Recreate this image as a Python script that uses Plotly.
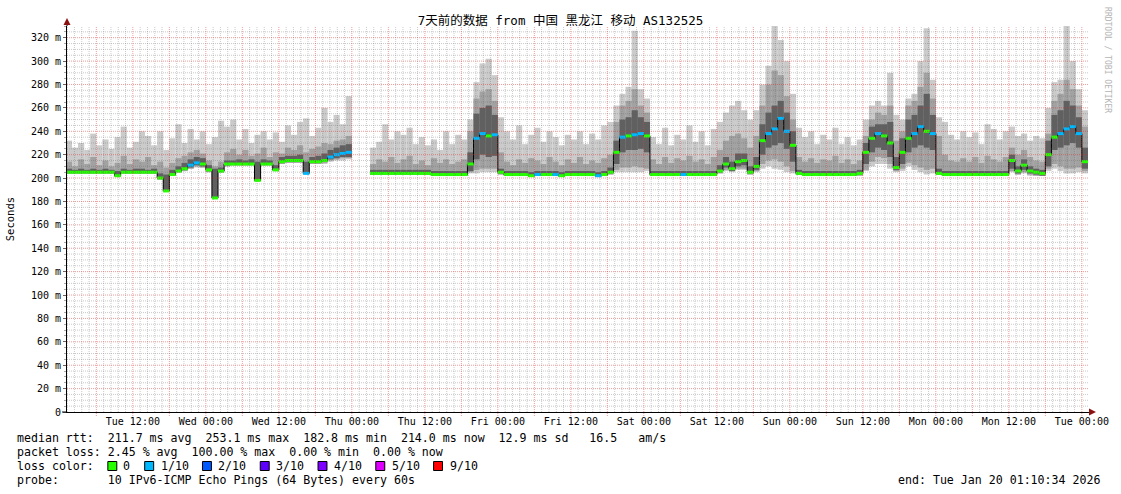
import plotly.graph_objects as go
import pandas as pd

N = None
FONT = "DejaVu Sans Mono, Noto Sans CJK SC, monospace"

TITLE = "7天前的数据 from 中国 黑龙江 移动 AS132525"
START, END = "2026-01-13 01:10:34", "2026-01-20 01:10:34"
FIRST_BIN_CENTER = "2026-01-13 01:30"   # hourly bins

Y_TICKS = [0, 20, 40, 60, 80, 100, 120, 140, 160, 180, 200, 220, 240, 260, 280, 300, 320]
Y_LABELS = ["0", "20 m", "40 m", "60 m", "80 m", "100 m", "120 m", "140 m", "160 m",
            "180 m", "200 m", "220 m", "240 m", "260 m", "280 m", "300 m", "320 m"]
X_TICKS = ["2026-01-13 12:00", "2026-01-14 00:00", "2026-01-14 12:00", "2026-01-15 00:00",
           "2026-01-15 12:00", "2026-01-16 00:00", "2026-01-16 12:00", "2026-01-17 00:00",
           "2026-01-17 12:00", "2026-01-18 00:00", "2026-01-18 12:00", "2026-01-19 00:00",
           "2026-01-19 12:00", "2026-01-20 00:00"]
X_LABELS = ["Tue 12:00", "Wed 00:00", "Wed 12:00", "Thu 00:00", "Thu 12:00", "Fri 00:00",
            "Fri 12:00", "Sat 00:00", "Sat 12:00", "Sun 00:00", "Sun 12:00", "Mon 00:00",
            "Mon 12:00", "Tue 00:00"]

# median rtt (ms), one value per hour
median_ms = [
    205,205,205,205,205,205,205,205,202,205,205,205,205,205,205,200,189,203,206,208,211,213,212,207,
    183,206,212,212,212,212,212,198,212,212,207,214,215,215,215,204,214,214,215,218,220,221,222,N,
    N,N,204,204,204,204,204,204,204,204,204,204,203,203,203,203,203,203,212,234,238,236,237,205,
    203,203,203,203,202,203,203,203,203,202,203,203,203,203,203,202,203,205,222,235,236,237,238,236,
    203,203,203,203,203,203,203,203,203,203,203,206,212,208,214,215,205,210,232,238,242,251,240,228,
    204,203,203,203,203,203,203,203,203,203,204,222,234,238,236,230,209,222,234,238,244,240,238,204,
    203,203,203,203,203,203,203,203,203,203,203,215,206,211,206,205,204,220,235,238,242,244,238,214,
]
# lost pings out of 10, per hour
loss_tenths = [
    0,0,0,0,0,0,0,0,0,0,0,0,0,0,0,0,0,0,0,0,1,1,0,0,
    0,0,0,0,0,0,0,0,0,0,0,0,0,0,0,1,0,0,0,1,1,1,1,N,
    N,N,0,0,0,0,0,0,0,0,0,0,0,0,0,0,0,0,0,1,1,0,1,0,
    0,0,0,0,0,1,0,0,1,0,0,0,0,0,0,1,0,0,0,1,0,1,1,0,
    0,0,0,0,0,1,0,0,0,0,0,0,0,0,0,0,0,0,0,1,1,1,1,0,
    0,0,0,0,0,0,0,0,0,0,0,0,0,1,0,0,0,0,0,1,1,0,1,0,
    0,0,0,0,0,0,0,0,0,0,0,0,0,0,0,0,0,0,0,1,1,1,1,0,
]
# smoke: lowest / highest ping
smoke_min = [
    204,204,204,204,204,204,204,204,202,204,204,204,204,204,204,199,194,202,205,206,208,209,209,205,
    200,205,210,211,211,211,211,205,211,211,206,212,213,213,213,206,212,212,212,214,215,215,216,N,
    N,N,203,203,203,203,203,203,203,203,203,203,202,202,202,202,202,202,204,204,205,205,205,203,
    202,202,202,202,201,202,202,202,202,201,202,202,202,202,202,201,202,203,205,205,205,205,205,206,
    202,202,202,202,202,202,202,202,202,202,202,204,206,205,207,207,203,205,208,210,208,207,205,204,
    203,202,202,202,202,202,202,202,202,202,202,206,210,212,212,208,205,206,210,207,205,203,204,203,
    202,202,202,202,202,202,202,202,202,202,202,205,203,204,202,202,202,206,208,206,204,204,205,204,
]
smoke_max = [
    232,226,230,224,238,228,233,225,235,244,226,231,240,236,228,240,224,234,246,230,242,233,240,229,
    235,249,244,250,233,242,230,237,240,233,239,231,245,237,248,251,236,243,260,248,254,246,270,N,
    N,N,226,231,246,233,240,237,243,229,235,228,233,224,240,229,237,233,250,282,298,302,288,252,
    240,233,245,229,237,243,231,240,235,228,237,233,240,229,238,233,245,248,262,272,278,326,276,268,
    235,229,243,228,237,233,245,231,240,228,242,248,256,262,266,258,250,258,280,296,330,318,300,272,
    243,235,240,229,237,233,243,229,235,228,233,250,262,266,262,290,254,250,268,272,300,328,284,252,
    248,237,233,240,235,239,229,246,242,233,240,244,236,238,232,236,234,260,282,284,330,300,276,258,
]
# inner smoke (2nd..9th ping)
smoke_mid_low = [
    204,204,204,204,204,204,204,204,202,204,204,204,204,204,204,199,192,202,205,206,208,210,209,205,
    195,205,210,211,211,211,211,202,211,211,206,212,213,213,213,205,212,212,213,215,216,217,217,N,
    N,N,203,203,203,203,203,203,203,203,203,203,202,202,202,202,202,202,205,207,208,208,208,203,
    202,202,202,202,201,202,202,202,202,201,202,202,202,202,202,201,202,203,207,209,209,210,209,208,
    202,202,202,202,202,202,202,202,202,202,202,204,207,206,208,208,203,206,212,215,216,214,210,206,
    203,202,202,202,202,202,202,202,202,202,202,207,214,218,217,212,206,208,213,211,209,207,208,204,
    202,202,202,202,202,202,202,202,202,202,202,206,203,205,203,202,202,208,212,210,208,208,209,206,
]
smoke_mid_high = [
    214,210,216,212,218,211,215,210,213,219,212,216,214,218,211,214,209,213,217,219,222,224,221,215,
    210,214,222,225,220,224,219,221,226,218,222,221,226,224,228,222,225,227,230,229,232,233,236,N,
    N,N,212,216,214,218,213,216,219,212,215,211,217,213,216,212,214,216,240,268,274,276,266,222,
    214,211,216,213,217,215,212,218,214,211,216,213,218,212,215,213,217,220,248,262,266,276,262,256,
    216,212,218,213,217,215,219,214,216,212,218,224,232,236,238,234,226,236,262,280,292,288,270,250,
    218,214,217,213,216,215,219,213,216,212,215,236,250,256,254,262,232,240,262,266,278,290,268,236,
    220,215,214,217,214,218,213,219,216,214,218,226,220,224,218,215,214,238,266,272,284,276,262,244,
]
# core smoke (4th..7th ping)
smoke_core_low = [
    204,204,204,204,204,204,204,204,201,204,204,204,204,204,204,199,189,202,205,207,209,211,210,206,
    183,205,211,211,211,211,211,198,211,211,206,213,214,214,214,204,213,213,214,216,217,218,218,N,
    N,N,203,203,203,203,203,203,203,203,203,203,202,202,202,202,202,202,206,216,220,218,219,204,
    202,202,202,202,201,202,202,202,202,201,202,202,202,202,202,201,202,204,212,222,224,224,225,222,
    202,202,202,202,202,202,202,202,202,202,202,205,209,206,210,211,204,207,220,226,228,230,225,214,
    203,202,202,202,202,202,202,202,202,202,203,212,222,226,224,218,207,212,222,226,228,226,224,203,
    202,202,202,202,202,202,202,202,202,202,202,208,204,207,204,203,202,210,224,226,228,230,226,208,
]
smoke_core_high = [
    208,207,208,207,208,207,208,207,206,208,207,208,208,207,208,204,203,207,210,213,216,218,217,211,
    208,209,215,215,216,215,216,214,216,215,211,218,219,219,220,214,218,219,221,224,226,228,229,N,
    N,N,207,207,207,207,207,207,207,207,207,207,206,206,206,206,206,206,222,255,260,262,254,208,
    206,206,206,206,205,206,206,206,206,205,206,206,206,206,206,205,206,209,232,250,252,258,252,248,
    206,206,206,206,206,206,206,206,206,206,206,211,218,214,221,221,210,218,246,256,262,266,256,240,
    207,206,206,206,206,206,206,206,206,206,207,230,244,246,246,248,218,234,250,254,262,272,254,208,
    206,206,206,206,206,206,206,206,206,206,206,220,210,216,210,208,207,232,254,258,266,262,252,226,
]

LOSS_LEVELS = ["0", "1/10", "2/10", "3/10", "4/10", "5/10", "9/10"]
LOSS_COLORS = ["#26ff00", "#00b8ff", "#0059ff", "#5e00ff", "#7e00ff", "#dd00ff", "#ff0000"]

STAT_LINES = [
    "median rtt:  211.7 ms avg  253.1 ms max  182.8 ms min  214.0 ms now  12.9 ms sd   16.5   am/s",
    "packet loss: 2.45 % avg  100.00 % max  0.00 % min  0.00 % now",
    "loss color:",
    "probe:       10 IPv6-ICMP Echo Pings (64 Bytes) every 60s",
]
END_TEXT = "end: Tue Jan 20 01:10:34 2026"
SIDE_TEXT = "RRDTOOL / TOBI OETIKER"

# ---------------------------------------------------------------- layout geometry
L, T, W, H = 67, 26, 1026, 386
def px(x):
    return (x - L) / W
def py(y):
    return (T + H - y) / H

centers = pd.date_range(FIRST_BIN_CENTER, periods=len(median_ms), freq="h")
fig = go.Figure()

def band(lo, hi, color):
    base, height = [], []
    for a, b in zip(lo, hi):
        if a is None or b is None:
            base.append(None); height.append(None)
        else:
            base.append(a); height.append(b - a)
    fig.add_trace(go.Bar(x=centers, base=base, y=height, width=3650000,
                         marker=dict(color=color, line=dict(width=0)), hoverinfo="skip"))

band(smoke_min, smoke_max, "#cbcbcb")
band(smoke_mid_low, smoke_mid_high, "#a2a2a2")
band(smoke_core_low, smoke_core_high, "#606060")

fig.add_trace(go.Scatter(x=centers, y=median_ms, mode="lines", connectgaps=False,
                         line=dict(color="#000000", width=1, shape="hvh"), hoverinfo="skip"))
for lvl in sorted(set(v for v in loss_tenths if v is not None)):
    xs = [c for c, m, l in zip(centers, median_ms, loss_tenths) if l == lvl and m is not None]
    ys = [m for m, l in zip(median_ms, loss_tenths) if l == lvl and m is not None]
    idx = {0: 0, 1: 1, 2: 2, 3: 3, 4: 4, 5: 5}.get(lvl, 6)
    fig.add_trace(go.Scatter(x=xs, y=ys, mode="markers", hoverinfo="skip",
                             marker=dict(symbol="line-ew", size=4.5,
                                         line=dict(width=3, color=LOSS_COLORS[idx]))))

# grid (drawn above the smoke like rrdtool, semi-transparent)
PINK = "rgba(220,40,40,0.46)"
GREY = "rgba(100,100,100,0.34)"
shapes = []
t = pd.Timestamp("2026-01-13 00:00")
tstart = pd.Timestamp(START)
tend = pd.Timestamp(END)
step_i = 0
while t < tend:
    if t > tstart:
        major = (step_i % 5 == 0)
        shapes.append(dict(type="line", xref="x", yref="paper", x0=t, x1=t,
                           y0=(-4 / H if major else 0), y1=1, layer="above",
                           line=dict(color=PINK if major else GREY, width=1, dash="1px,1px")))
    t += pd.Timedelta(minutes=72)
    step_i += 1
for v in range(5, 330, 5):
    major = (v % 20 == 0)
    shapes.append(dict(type="line", xref="paper", yref="y", x0=0, x1=1, y0=v, y1=v,
                       layer="above",
                       line=dict(color=PINK if major else GREY, width=1, dash="1px,1px")))
# axis extensions and arrows
AX = "#000000"
ARROW = "#8b1010"
shapes.append(dict(type="line", xref="paper", yref="paper", x0=0, x1=0, y0=1, y1=py(21),
                   line=dict(color=AX, width=1), layer="above"))
shapes.append(dict(type="line", xref="paper", yref="paper", x0=px(62), x1=0, y0=0, y1=0,
                   line=dict(color=AX, width=1), layer="above"))
shapes.append(dict(type="path", xref="paper", yref="paper", layer="above",
                   path=f"M {px(67)},{py(18)} L {px(63.5)},{py(25)} L {px(70.5)},{py(25)} Z",
                   fillcolor=ARROW, line=dict(width=0)))
shapes.append(dict(type="path", xref="paper", yref="paper", layer="above",
                   path=f"M {px(1100)},{py(412)} L {px(1093)},{py(408.5)} L {px(1093)},{py(415.5)} Z",
                   fillcolor=ARROW, line=dict(width=0)))

# loss colour swatches
SW_X = [108, 145, 203, 261, 319, 377, 435]
LBL_X = [122, 160, 218, 276, 334, 392, 450]
for sx, col in zip(SW_X, LOSS_COLORS):
    shapes.append(dict(type="rect", xref="paper", yref="paper",
                       x0=px(sx), x1=px(sx + 9), y0=py(470.5), y1=py(461.5),
                       fillcolor=col, line=dict(color="#000000", width=1)))

nb = lambda s: s.replace(" ", "\u00a0")
ann = []
LEG_FONT = dict(family=FONT, size=11.6, color="#000000")
for i, line in enumerate(STAT_LINES):
    ann.append(dict(text=nb(line), xref="paper", yref="paper", x=px(15), y=py(438 + 14 * i),
                    xanchor="left", yanchor="middle", showarrow=False, font=LEG_FONT))
for lx, lab in zip(LBL_X, LOSS_LEVELS):
    ann.append(dict(text=lab, xref="paper", yref="paper", x=px(lx - 1), y=py(466),
                    xanchor="left", yanchor="middle", showarrow=False, font=LEG_FONT))
ann.append(dict(text=nb(END_TEXT), xref="paper", yref="paper", x=px(1106), y=py(480),
                xanchor="right", yanchor="middle", showarrow=False, font=LEG_FONT))
ann.append(dict(text="Seconds", xref="paper", yref="paper", x=px(10), y=py(219),
                xanchor="center", yanchor="middle", showarrow=False, textangle=-90,
                font=dict(family=FONT, size=10.5, color="#000000")))
ann.append(dict(text=nb(SIDE_TEXT), xref="paper", yref="paper", x=px(1111), y=py(60),
                xanchor="center", yanchor="middle", showarrow=False, textangle=90,
                font=dict(family=FONT, size=8, color="#b4b4b4")))

fig.update_layout(
    width=1121, height=494,
    margin=dict(l=L, r=1121 - L - W, t=T, b=494 - T - H, pad=0),
    paper_bgcolor="white", plot_bgcolor="white",
    showlegend=False, barmode="overlay",
    font=dict(family=FONT, size=10, color="#000000"),
    title=dict(text=TITLE, x=0.5, xref="container", xanchor="center",
               y=1 - 21 / 494, yref="container", yanchor="middle",
               font=dict(family=FONT, size=12.5, color="#000000")),
    xaxis=dict(type="date", range=[START, END], tickmode="array", tickvals=X_TICKS,
               ticktext=X_LABELS, showgrid=False, zeroline=False, showline=True,
               linecolor=AX, linewidth=1, ticks="", tickfont=dict(size=10, color="#000000")),
    yaxis=dict(range=[0, 330], tickmode="array", tickvals=Y_TICKS, ticktext=Y_LABELS,
               showgrid=False, zeroline=False, showline=True, linecolor=AX, linewidth=1,
               ticks="outside", ticklen=3, tickcolor="#666666",
               tickfont=dict(size=10, color="#000000"),
               minor=dict(tick0=0, dtick=5, ticks="outside", ticklen=2, tickcolor="#aaaaaa",
                          showgrid=False)),
    shapes=shapes, annotations=ann,
)

fig.write_html("out.html", config={"displayModeBar": False, "staticPlot": True},
               post_script="document.body.style.margin='0px';document.body.style.overflow='hidden';")
